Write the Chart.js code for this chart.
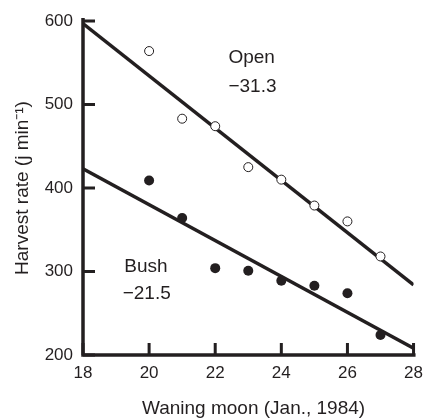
<!DOCTYPE html>
<html>
<head>
<meta charset="utf-8">
<script src="https://cdn.jsdelivr.net/npm/chart.js@4"></script>
<style>
  html, body { margin: 0; padding: 0; background: #fff; }
  canvas { display: block; }
</style>
</head>
<body>
<canvas id="chart" width="431" height="420"></canvas>
<script>
// days of the waning moon, Jan. 1984
const days = [20, 21, 22, 23, 24, 25, 26, 27];
const openRate = [564, 483, 474, 425, 410, 379, 360, 318];
const bushRate = [409, 364, 304, 301, 289, 283, 274, 224];

// fitted regression lines (end points at day 18 and day 28)
const fitDays = [18, 28];
const openFit = [597, 284];
const bushFit = [423, 208];

const xTicks = [18, 20, 22, 24, 26, 28];
const yTicks = [200, 300, 400, 500, 600];

const ink = '#231f20';
const font = 'Liberation Sans, Arial, Helvetica, sans-serif';

const toPoints = (xs, ys) => xs.map((x, i) => ({ x: x, y: ys[i] }));

// axes drawn by hand so the ticks point inward like the original figure
const axesPlugin = {
  id: 'axes',
  beforeDatasetsDraw(chart) {
    const ctx = chart.ctx;
    const xs = chart.scales.x;
    const ys = chart.scales.y;
    const x0 = xs.getPixelForValue(18);
    const y0 = ys.getPixelForValue(200);
    ctx.save();
    ctx.strokeStyle = ink;
    ctx.lineWidth = 3.5;
    ctx.lineCap = 'butt';
    ctx.beginPath();
    ctx.moveTo(x0, ys.getPixelForValue(600) - 3);
    ctx.lineTo(x0, y0);
    ctx.lineTo(xs.getPixelForValue(28) + 2, y0);
    ctx.stroke();
    ctx.lineWidth = 3;
    ctx.beginPath();
    yTicks.forEach((v) => {
      const py = ys.getPixelForValue(v);
      ctx.moveTo(x0, py);
      ctx.lineTo(x0 + 12, py);
    });
    xTicks.forEach((v) => {
      const px = xs.getPixelForValue(v);
      ctx.moveTo(px, y0);
      ctx.lineTo(px, y0 - 12);
    });
    ctx.stroke();
    ctx.restore();
  },
  afterDraw(chart) {
    const ctx = chart.ctx;
    const xs = chart.scales.x;
    const ys = chart.scales.y;
    ctx.save();
    ctx.fillStyle = ink;
    ctx.font = '19px ' + font;
    ctx.textAlign = 'left';
    ctx.textBaseline = 'middle';
    ctx.fillText('Open', xs.getPixelForValue(22.4), ys.getPixelForValue(556));
    ctx.fillText('\u221231.3', xs.getPixelForValue(22.4), ys.getPixelForValue(521));
    ctx.fillText('Bush', xs.getPixelForValue(19.25), ys.getPixelForValue(306));
    ctx.fillText('\u221221.5', xs.getPixelForValue(19.2), ys.getPixelForValue(273));
    ctx.restore();
  }
};

new Chart(document.getElementById('chart'), {
  type: 'scatter',
  data: {
    datasets: [
      {
        label: 'Open',
        data: toPoints(days, openRate),
        pointRadius: 4.5,
        pointBackgroundColor: '#fff',
        pointBorderColor: ink,
        pointBorderWidth: 1
      },
      {
        label: 'Bush',
        data: toPoints(days, bushRate),
        pointRadius: 5,
        pointBackgroundColor: ink,
        pointBorderColor: ink,
        pointBorderWidth: 0
      },
      {
        type: 'line',
        label: 'Open fit',
        data: toPoints(fitDays, openFit),
        borderColor: ink,
        borderWidth: 3.5,
        pointRadius: 0
      },
      {
        type: 'line',
        label: 'Bush fit',
        data: toPoints(fitDays, bushFit),
        borderColor: ink,
        borderWidth: 3.5,
        pointRadius: 0
      }
    ]
  },
  options: {
    responsive: false,
    animation: false,
    layout: { padding: { top: 21, right: 13, left: 0, bottom: 0 } },
    plugins: { legend: { display: false }, tooltip: { enabled: false } },
    scales: {
      x: {
        type: 'linear',
        min: 18,
        max: 28,
        afterBuildTicks: (scale) => { scale.ticks = xTicks.map((v) => ({ value: v })); },
        afterFit: (scale) => { scale.height = 65; },
        grid: { display: false, drawTicks: false },
        border: { display: false },
        ticks: { color: ink, padding: 8, font: { family: font, size: 17 } },
        title: {
          display: true,
          text: '  Waning moon (Jan., 1984)',
          color: ink,
          font: { family: font, size: 19, lineHeight: 1 },
          padding: { top: 0, bottom: 2 }
        }
      },
      y: {
        type: 'linear',
        min: 200,
        max: 600,
        afterBuildTicks: (scale) => { scale.ticks = yTicks.map((v) => ({ value: v })); },
        afterFit: (scale) => { scale.width = 83; },
        grid: { display: false, drawTicks: false },
        border: { display: false },
        ticks: { color: ink, padding: 10, font: { family: font, size: 17 } },
        title: {
          display: true,
          text: 'Harvest rate (j min\u207B\u00B9)',
          color: ink,
          font: { family: font, size: 19, lineHeight: 1 },
          padding: { top: 13, bottom: 0 }
        }
      }
    }
  },
  plugins: [axesPlugin]
});
</script>
</body>
</html>
